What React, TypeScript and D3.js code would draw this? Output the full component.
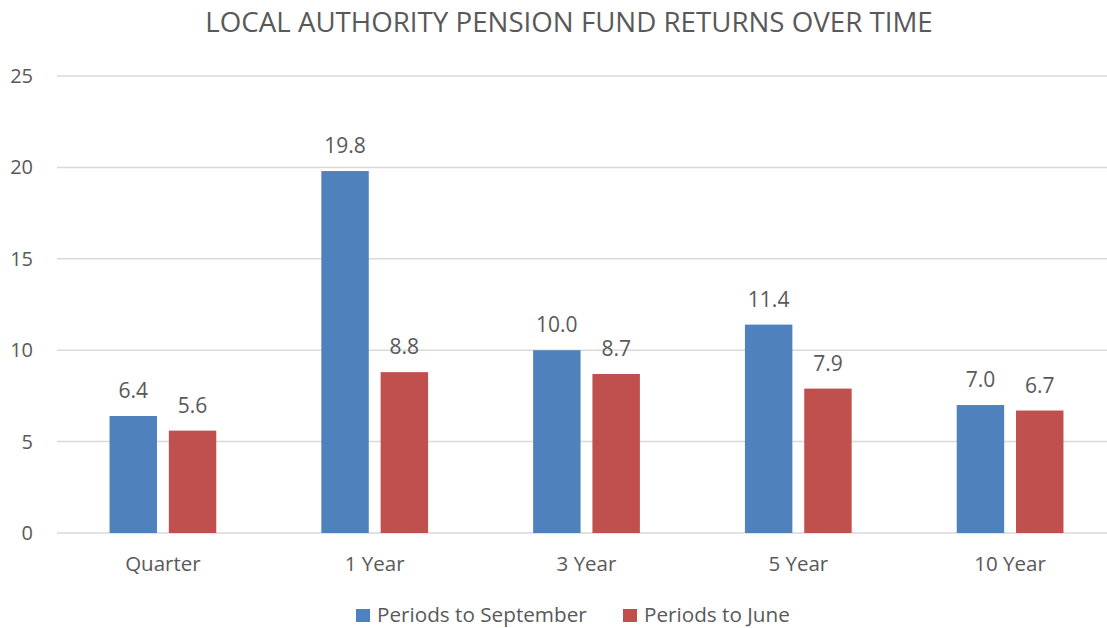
import React from "react";
import * as d3 from "d3";

const categories = ["Quarter", "1 Year", "3 Year", "5 Year", "10 Year"];
const seriesNames = ["Periods to September", "Periods to June"];
const september = [6.4, 19.8, 10.0, 11.4, 7.0];
const june = [5.6, 8.8, 8.7, 7.9, 6.7];
const yTicks = [0, 5, 10, 15, 20, 25];
const colors = ["#4f81bd", "#c0504d"];

const W = 1107;
const H = 628;
const FONT = "'Open Sans', sans-serif";
const TXT = "#595959";

export default function App() {
  const plotLeft = 57;
  const plotRight = 1116;
  const y = d3.scaleLinear().domain([0, 25]).range([533, 76]);
  const x0 = d3.scaleBand<string>().domain(categories).range([plotLeft, plotRight]).padding(0);
  const groupW = x0.bandwidth() * 0.504;
  const x1 = d3
    .scaleBand<string>()
    .domain(seriesNames)
    .range([0, groupW])
    .paddingInner(0.2);
  const series = [september, june];

  return (
    <svg width={W} height={H} style={{ position: "absolute", left: 0, top: 0, fontFamily: FONT }}>
      <rect width={W} height={H} fill="#ffffff" />
      <text x={569} y={32} textAnchor="middle" fontSize={27.7} fill={TXT}>
        LOCAL AUTHORITY PENSION FUND RETURNS OVER TIME
      </text>
      {yTicks.map((t) => (
        <g key={t}>
          <line x1={plotLeft} x2={W} y1={y(t)} y2={y(t)} stroke="#d9d9d9" strokeWidth={1.5} />
          <text x={33} y={y(t) + 7} textAnchor="end" fontSize={20} fill={TXT}>
            {t}
          </text>
        </g>
      ))}
      {categories.map((c, i) => {
        const gx = (x0(c) as number) + (x0.bandwidth() - groupW) / 2;
        return (
          <g key={c}>
            {series.map((vals, s) => {
              const bx = gx + (x1(seriesNames[s]) as number);
              const v = vals[i];
              return (
                <g key={s}>
                  <rect
                    x={bx}
                    y={y(v)}
                    width={x1.bandwidth()}
                    height={y(0) - y(v)}
                    fill={colors[s]}
                  />
                  <text
                    x={bx + x1.bandwidth() / 2}
                    y={y(v) - 18}
                    textAnchor="middle"
                    fontSize={21}
                    fill={TXT}
                  >
                    {v.toFixed(1)}
                  </text>
                </g>
              );
            })}
            <text
              x={(x0(c) as number) + x0.bandwidth() / 2}
              y={571}
              textAnchor="middle"
              fontSize={20.5}
              fill={TXT}
            >
              {c}
            </text>
          </g>
        );
      })}
      {seriesNames.map((n, s) => {
        const lx = [356, 623][s];
        return (
          <g key={n}>
            <rect x={lx} y={609} width={14} height={13} fill={colors[s]} />
            <text x={lx + 21} y={621.5} fontSize={20.7} fill={TXT}>
              {n}
            </text>
          </g>
        );
      })}
    </svg>
  );
}
